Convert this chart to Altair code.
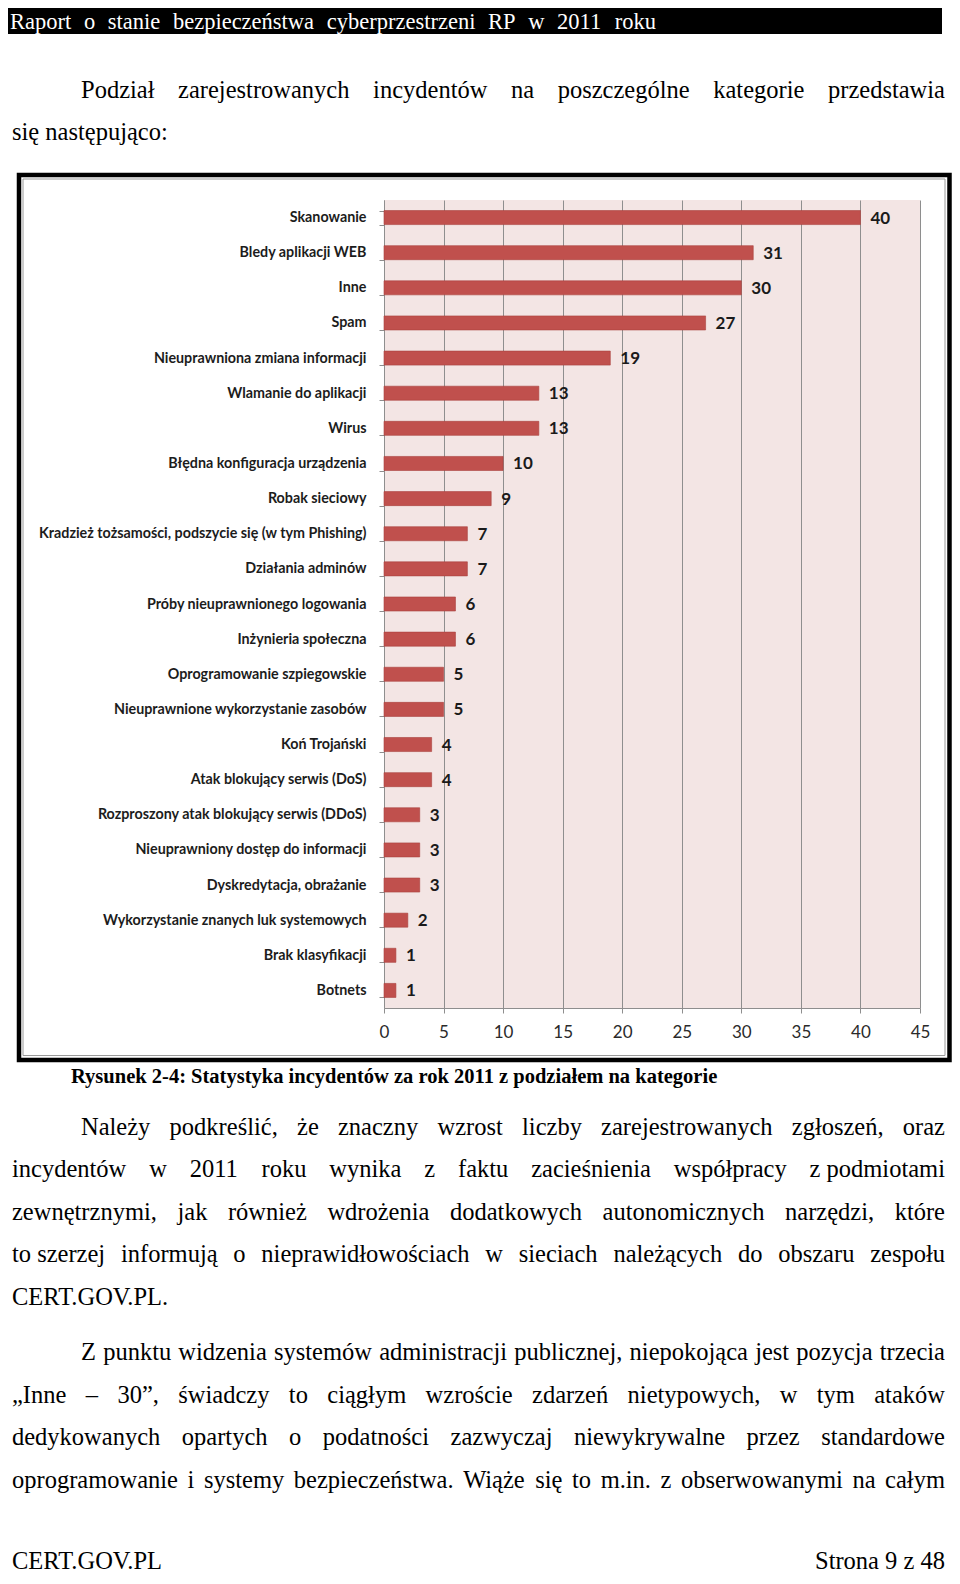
import altair as alt
import pandas as pd

# ---------------- chart data ----------------
categories = [
    "Skanowanie",
    "Bledy aplikacji WEB",
    "Inne",
    "Spam",
    "Nieuprawniona zmiana informacji",
    "Wlamanie do aplikacji",
    "Wirus",
    "Błędna konfiguracja urządzenia",
    "Robak sieciowy",
    "Kradzież tożsamości, podszycie się (w tym Phishing)",
    "Działania adminów",
    "Próby nieuprawnionego logowania",
    "Inżynieria społeczna",
    "Oprogramowanie szpiegowskie",
    "Nieuprawnione wykorzystanie zasobów",
    "Koń Trojański",
    "Atak blokujący serwis (DoS)",
    "Rozproszony atak blokujący serwis (DDoS)",
    "Nieuprawniony dostęp do informacji",
    "Dyskredytacja, obrażanie",
    "Wykorzystanie znanych luk systemowych",
    "Brak klasyfikacji",
    "Botnets",
]
values = [40, 31, 30, 27, 19, 13, 13, 10, 9, 7, 7, 6, 6, 5, 5, 4, 4, 3, 3, 3, 2, 1, 1]
x_ticks = [0, 5, 10, 15, 20, 25, 30, 35, 40, 45]

# ---------------- page text ----------------
header_text = "Raport o stanie bezpieczeństwa cyberprzestrzeni RP w 2011 roku"
intro_lines = [
    "Podział zarejestrowanych incydentów na poszczególne kategorie przedstawia",
    "się następująco:",
]
caption_text = "Rysunek 2-4: Statystyka incydentów za rok 2011 z podziałem na kategorie"
para2_lines = [
    "Należy podkreślić, że znaczny wzrost liczby zarejestrowanych zgłoszeń, oraz",
    "incydentów w 2011 roku wynika z faktu zacieśnienia współpracy z\u00a0podmiotami",
    "zewnętrznymi, jak również wdrożenia dodatkowych autonomicznych narzędzi, które",
    "to\u00a0szerzej informują o nieprawidłowościach w sieciach należących do obszaru zespołu",
    "CERT.GOV.PL.",
]
para3_lines = [
    "Z punktu widzenia systemów administracji publicznej, niepokojąca jest pozycja trzecia",
    "„Inne – 30”, świadczy to ciągłym wzroście zdarzeń nietypowych, w tym ataków",
    "dedykowanych opartych o podatności zazwyczaj niewykrywalne przez standardowe",
    "oprogramowanie i systemy bezpieczeństwa. Wiąże się to m.in. z obserwowanymi na całym",
]
footer_left = "CERT.GOV.PL"
footer_right = "Strona 9 z 48"

# ---------------- layout helpers ----------------
OX, OY = 384, 200          # page position of the plot origin
W, H = 536, 808            # plot area
SVG_W, SVG_H = 944, 1568
PAD = {"left": OX - 8, "top": OY - 8, "right": SVG_W - (OX - 8) - W, "bottom": SVG_H - (OY - 8) - H}

TR = dict(zip("abcdefghijklmnopqrstuvwxyz",
              [444, 500, 444, 500, 444, 333, 500, 500, 278, 278, 500, 278, 778, 500, 500, 500, 500, 333, 389, 278, 500, 500, 722, 500, 500, 444]))
TR.update(zip("ABCDEFGHIJKLMNOPQRSTUVWXYZ",
              [722, 667, 667, 722, 611, 556, 722, 722, 333, 389, 722, 611, 889, 722, 722, 556, 722, 667, 556, 611, 722, 722, 944, 722, 722, 611]))
TR.update({" ": 250, "\u00a0": 250, ",": 250, ".": 250, ":": 278, "-": 333, "–": 500, "„": 444, "”": 444, "(": 333, ")": 333})
for d in "0123456789":
    TR[d] = 500
DIA = {"ą": "a", "ć": "c", "ę": "e", "ł": "l", "ń": "n", "ó": "o", "ś": "s", "ź": "z", "ż": "z",
       "Ł": "L", "Ś": "S", "Ż": "Z", "Ź": "Z", "Ć": "C"}


def em_width(s):
    return sum(TR.get(DIA.get(c, c), 500) for c in s) / 1000.0


def layout(lines, lefts, right, baselines, fs, justify_flags):
    rows = []
    for text, left, base, just in zip(lines, lefts, baselines, justify_flags):
        words = text.split(" ")
        avail = right - left
        nat = em_width(text) * fs
        f = fs if nat <= avail else fs * avail / nat
        if not just or len(words) == 1:
            rows.append({"x": left - OX, "y": base - OY, "t": text, "fs": f})
            continue
        ww = [em_width(w) * f for w in words]
        gap = (avail - sum(ww)) / (len(words) - 1)
        x = left
        for w, wdt in zip(words, ww):
            rows.append({"x": x - OX, "y": base - OY, "t": w, "fs": f})
            x += wdt + gap
    return rows


FS = 24.5
RIGHT = 945
rows = []
rows += layout(intro_lines, [81, 12], RIGHT, [98, 140], FS, [True, False])
rows += layout(para2_lines, [81, 12, 12, 12, 12], RIGHT, [1135, 1177, 1219.5, 1262, 1304.5], FS,
               [True, True, True, True, False])
rows += layout(para3_lines, [81, 12, 12, 12], RIGHT, [1360, 1402.5, 1445, 1488], FS, [True, True, True, True])
rows += layout([footer_left], [12], RIGHT, [1569], FS, [False])
words_df = pd.DataFrame(rows)

header_df = pd.DataFrame(layout([header_text], [10], 656, [28.5], 22.5, [True]))

cap_fs = 649 / (31.61)
caption_df = pd.DataFrame([{"x": 71 - OX, "y": 1083 - OY, "t": caption_text, "fs": cap_fs}])
footer_r_df = pd.DataFrame([{"x": RIGHT - OX, "y": 1569 - OY, "t": footer_right, "fs": FS}])

one = pd.DataFrame({"k": [0]})


def pos_text(df, **kw):
    return alt.Chart(df).mark_text(baseline="alphabetic", **kw).encode(
        x=alt.X("x:Q", scale=None, axis=None),
        y=alt.Y("y:Q", scale=None, axis=None),
        text="t:N",
        size=alt.Size("fs:Q", scale=None, legend=None),
    )


def box(x1, x2, y1, y2, **kw):
    return alt.Chart(one).mark_rect(**kw).encode(
        x=alt.value(x1 - OX), x2=alt.value(x2 - OX), y=alt.value(y1 - OY), y2=alt.value(y2 - OY)
    )


header_bar = box(8, 942, 8, 34, color="#000000")
frame_outer = box(19, 949.5, 175, 1060, fillOpacity=0, stroke="#000000", strokeWidth=4.5)
frame_inner = box(23, 945, 179, 1055.5, fillOpacity=0, stroke="#9a9a9a", strokeWidth=1)

data = pd.DataFrame({"category": categories, "value": values})
axis_grey = "#8e8e8e"

bars = alt.Chart(data).mark_bar(color="#C0504D", stroke="#A9413E", strokeWidth=0.6).encode(
    x=alt.X(
        "value:Q",
        scale=alt.Scale(domain=[0, 45], nice=False),
        axis=alt.Axis(
            values=x_ticks, title=None, grid=True, gridColor=axis_grey, gridWidth=1,
            domainColor=axis_grey, tickColor=axis_grey, tickSize=5,
            labelFont="Lato", labelFontSize=17, labelColor="#2a2a2a", labelPadding=11,
            labelFlush=False,
        ),
    ),
    y=alt.Y(
        "category:N",
        sort=categories,
        scale=alt.Scale(paddingInner=0.6, paddingOuter=0.3),
        axis=alt.Axis(
            title=None, grid=False, tickBand="extent", domainColor=axis_grey, tickColor=axis_grey,
            tickSize=5, labelPadding=13, labelFont="Lato", labelFontSize=14.3, labelFontWeight="bold",
            labelColor="#1c1c1c", labelLimit=400,
        ),
    ),
)

value_labels = alt.Chart(data).mark_text(
    align="left", baseline="middle", dx=10, dy=1, font="Lato", fontSize=17, fontWeight="bold", color="#1a1a1a"
).encode(
    x=alt.X("value:Q"),
    y=alt.Y("category:N", sort=categories),
    text="value:Q",
)

chart = alt.layer(
    header_bar,
    frame_outer,
    frame_inner,
    bars,
    value_labels,
    pos_text(header_df, align="left", font="Liberation Serif", color="#ffffff"),
    pos_text(words_df, align="left", font="Liberation Serif", color="#000000"),
    pos_text(caption_df, align="left", font="Liberation Serif", fontWeight="bold", color="#000000"),
    pos_text(footer_r_df, align="right", font="Liberation Serif", color="#000000"),
).properties(
    width=W, height=H, autosize=alt.AutoSizeParams(type="none"), padding=PAD
).configure_view(
    fill="#F3E5E4", strokeWidth=0
)

chart.save("out.html", embed_options={"renderer": "svg", "actions": False})
